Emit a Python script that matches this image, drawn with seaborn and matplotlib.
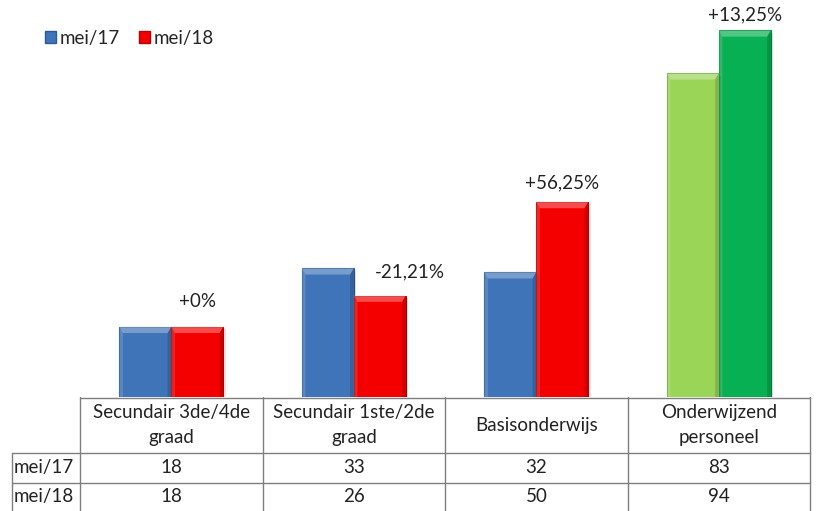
import matplotlib
matplotlib.use('Agg')
import matplotlib.pyplot as plt
import matplotlib.patches as mpatches
import pandas as pd
import seaborn as sns

categories = ['Secundair 3de/4de\ngraad', 'Secundair 1ste/2de\ngraad', 'Basisonderwijs', 'Onderwijzend\npersoneel']
series = ['mei/17', 'mei/18']
mei17 = [18, 33, 32, 83]
mei18 = [18, 26, 50, 94]
changes = ['+0%', '-21,21%', '+56,25%', '+13,25%']

dat = pd.DataFrame({
    'cat': categories * 2,
    'serie': [series[0]] * 4 + [series[1]] * 4,
    'val': mei17 + mei18,
})

sns.set_theme(style='white')
plt.rcParams['font.family'] = ['Lato', 'DejaVu Sans']

W, H = 816, 511
fs = 13.5
tc = '#222222'
fig = plt.figure(figsize=(W / 100, H / 100), dpi=100)
base = 397  # pixel row of the category axis

ax = fig.add_axes([80 / W, (H - base) / H, 730 / W, base / H])
sns.barplot(data=dat, x='cat', y='val', hue='serie', hue_order=series,
            palette=['#3F74B8', '#F50000'], width=0.57, legend=False, ax=ax,
            order=categories)
ax.set_xlim(-0.5, 3.5)
ax.set_ylim(0, base / 3.9)
ax.axis('off')

# recolor last group green, add a simple bevel look
bars = sorted(ax.patches, key=lambda p: p.get_x())
colors = ['#3F74B8', '#F50000'] * 3 + ['#9BD558', '#07B052']
edges = ['#2C5A94', '#B80000'] * 3 + ['#6FA83A', '#048A3E']
bev = 1.6
dx = 0.02
for p, c, e in zip(bars, colors, edges):
    p.set_facecolor(c)
    p.set_edgecolor(e)
    p.set_linewidth(0.8)
    x0, w, h = p.get_x(), p.get_width(), p.get_height()
    # shadow
    ax.add_patch(mpatches.Rectangle((x0 + w + 0.004, 0), 0.01, h - 0.6,
                                    color='#000000', alpha=0.10, lw=0, zorder=1))
    top = mpatches.Polygon([(x0, h), (x0 + w, h), (x0 + w - dx, h - bev), (x0 + dx, h - bev)],
                           closed=True, facecolor='white', alpha=0.30, lw=0, zorder=3)
    ax.add_patch(top)
    left = mpatches.Polygon([(x0, h), (x0 + dx, h - bev), (x0 + dx, 0), (x0, 0)],
                            closed=True, facecolor='white', alpha=0.15, lw=0, zorder=3)
    ax.add_patch(left)
    right = mpatches.Polygon([(x0 + w, h), (x0 + w - dx, h - bev), (x0 + w - dx, 0), (x0 + w, 0)],
                             closed=True, facecolor='black', alpha=0.15, lw=0, zorder=3)
    ax.add_patch(right)

# change labels above the second bar of each group
label_offsets = [(0, 12), (22, 11), (0, 8), (0, 5)]
for i, (txt, off) in enumerate(zip(changes, label_offsets)):
    p = bars[2 * i + 1]
    ax.annotate(txt, (p.get_x() + p.get_width() / 2, p.get_height()),
                xytext=off, textcoords='offset points', ha='center', va='bottom',
                fontsize=fs, color=tc)

handles = [mpatches.Patch(facecolor=c, edgecolor=e, label=s)
           for c, e, s in zip(['#3F74B8', '#F50000'], ['#2C5A94', '#B80000'], series)]
fig.legend(handles=handles, loc='upper left', bbox_to_anchor=(45 / W, 1 - 30 / H),
           ncol=2, frameon=False, fontsize=fs, handlelength=0.6, handleheight=0.6,
           handletextpad=0.2, columnspacing=1.0, borderaxespad=0, borderpad=0)

# data table underneath
tab = fig.add_axes([0, 0, 1, (H - base) / H])
tab.set_xlim(0, W)
tab.set_ylim(H, base)
tab.axis('off')
col_edges = [80, 263, 445, 628, 810]
lc = '#7F7F7F'
tab.plot([col_edges[0], col_edges[-1]], [base + 0.5, base + 0.5], color=lc, lw=1)
for yy in [453, 483]:
    tab.plot([12, col_edges[-1]], [yy, yy], color=lc, lw=1)
for xx in col_edges:
    tab.plot([xx, xx], [base, H], color=lc, lw=1)
tab.plot([12, 12], [453, H], color=lc, lw=1)

for i, cat in enumerate(categories):
    cx = (col_edges[i] + col_edges[i + 1]) / 2
    lines = cat.split('\n')
    if len(lines) == 2:
        tab.text(cx, 412, lines[0], ha='center', va='center', fontsize=fs, color=tc)
        tab.text(cx, 437, lines[1], ha='center', va='center', fontsize=fs, color=tc)
    else:
        tab.text(cx, 425, cat, ha='center', va='center', fontsize=fs, color=tc)
    tab.text(cx, 467, str(mei17[i]), ha='center', va='center', fontsize=fs, color=tc)
    tab.text(cx, 496, str(mei18[i]), ha='center', va='center', fontsize=fs, color=tc)
tab.text(14, 467, series[0], ha='left', va='center', fontsize=fs, color=tc)
tab.text(14, 496, series[1], ha='left', va='center', fontsize=fs, color=tc)

fig.savefig('out.png', dpi=100)
